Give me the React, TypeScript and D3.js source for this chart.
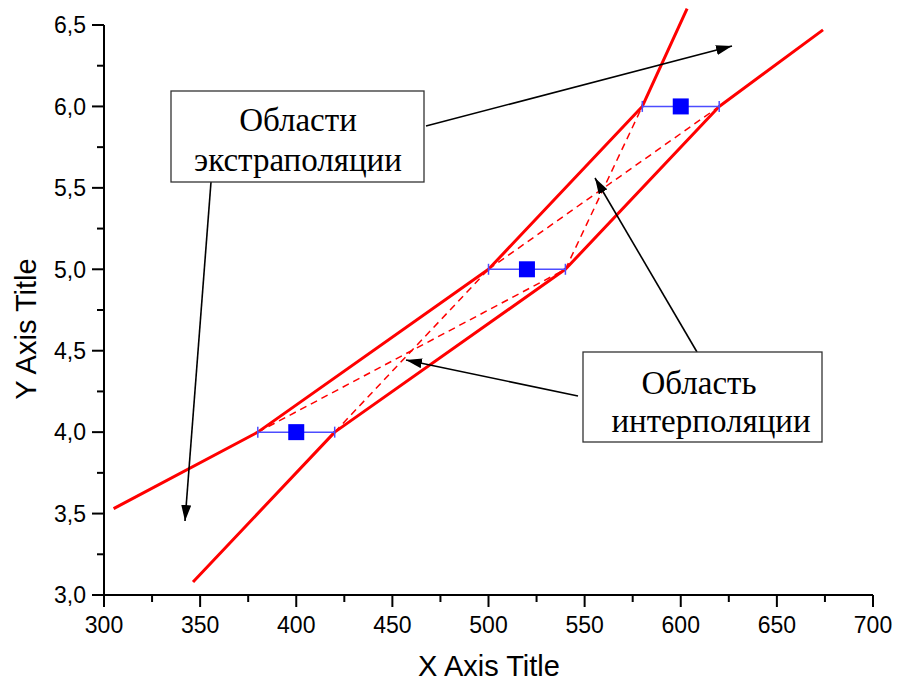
import React from "react";
import * as d3 from "d3";

// Axis ticks
const xTicks = [300, 350, 400, 450, 500, 550, 600, 650, 700];
const xMinorTicks = [325, 375, 425, 475, 525, 575, 625, 675];
const yTicks = [3.0, 3.5, 4.0, 4.5, 5.0, 5.5, 6.0, 6.5];
const yMinorTicks = [3.25, 3.75, 4.25, 4.75, 5.25, 5.75, 6.25];

// Measured points with horizontal error
const pointX = [400, 520, 600];
const pointY = [4.0, 5.0, 6.0];
const pointErrX = [20, 20, 20];

// Boundary polylines (solid red)
const upperX = [305, 380, 500, 580, 603.3];
const upperY = [3.53, 4.0, 5.0, 6.0, 6.6];
const lowerX = [346.3, 420, 540, 620, 674];
const lowerY = [3.08, 4.0, 5.0, 6.0, 6.47];

// Diagonal interpolation lines (dashed red): [x1, y1, x2, y2]
const diagLines = [
  [380, 4.0, 540, 5.0],
  [420, 4.0, 500, 5.0],
  [500, 5.0, 620, 6.0],
  [540, 5.0, 580, 6.0],
];

const W = 897;
const H = 682;

export default function App() {
  const x = d3.scaleLinear().domain([300, 700]).range([104, 873]);
  const y = d3.scaleLinear().domain([3, 6.5]).range([595, 25]);

  const line = d3
    .line<[number, number]>()
    .x((d) => x(d[0]))
    .y((d) => y(d[1]));

  const upper = upperX.map((v, i) => [v, upperY[i]] as [number, number]);
  const lower = lowerX.map((v, i) => [v, lowerY[i]] as [number, number]);

  const tickFont = "'Liberation Sans', Arial, sans-serif";
  const serif = "'Liberation Serif', 'Times New Roman', serif";

  const arrows = [
    { x1: 426, y1: 126, x2: 732, y2: 46 },
    { x1: 211, y1: 182, x2: 185, y2: 521 },
    { x1: 697, y1: 352, x2: 595, y2: 178 },
    { x1: 578, y1: 396, x2: 406, y2: 360 },
  ];

  return (
    <div style={{ position: "absolute", left: 0, top: 0 }}>
      <svg width={W} height={H} viewBox={`0 0 ${W} ${H}`} style={{ display: "block", background: "#fff" }}>
        <defs>
          <marker
            id="arrowHead"
            viewBox="0 0 16 10"
            refX="16"
            refY="5"
            markerWidth="16"
            markerHeight="10"
            markerUnits="userSpaceOnUse"
            orient="auto"
          >
            <path d="M0,0 L16,5 L0,10 z" fill="#000" />
          </marker>
        </defs>

        {/* Dashed diagonals */}
        {diagLines.map((d, i) => (
          <line
            key={`dg${i}`}
            x1={x(d[0])}
            y1={y(d[1])}
            x2={x(d[2])}
            y2={y(d[3])}
            stroke="#ff0000"
            strokeWidth={1.5}
            strokeDasharray="7,5"
          />
        ))}

        {/* Solid boundaries */}
        <path d={line(upper) ?? ""} fill="none" stroke="#ff0000" strokeWidth={3} strokeLinejoin="round" />
        <path d={line(lower) ?? ""} fill="none" stroke="#ff0000" strokeWidth={3} strokeLinejoin="round" />

        {/* Error bars and points */}
        {pointX.map((px, i) => {
          const cy = y(pointY[i]);
          const xl = x(px - pointErrX[i]);
          const xr = x(px + pointErrX[i]);
          return (
            <g key={`p${i}`}>
              <line x1={xl} y1={cy} x2={xr} y2={cy} stroke="#4d4dff" strokeWidth={1.5} />
              <line x1={xl} y1={cy - 5.5} x2={xl} y2={cy + 5.5} stroke="#4d4dff" strokeWidth={1.5} />
              <line x1={xr} y1={cy - 5.5} x2={xr} y2={cy + 5.5} stroke="#4d4dff" strokeWidth={1.5} />
              <rect x={x(px) - 8} y={cy - 8} width={16} height={16} fill="#0000ff" />
            </g>
          );
        })}

        {/* Axes */}
        <g stroke="#000" strokeWidth={2} fill="none">
          <line x1={x(300)} y1={y(3)} x2={x(700)} y2={y(3)} />
          <line x1={x(300)} y1={y(3)} x2={x(300)} y2={y(6.5)} />
          {xTicks.map((t) => (
            <line key={`xt${t}`} x1={x(t)} y1={y(3)} x2={x(t)} y2={y(3) + 12} />
          ))}
          {xMinorTicks.map((t) => (
            <line key={`xm${t}`} x1={x(t)} y1={y(3)} x2={x(t)} y2={y(3) + 7} />
          ))}
          {yTicks.map((t) => (
            <line key={`yt${t}`} x1={x(300) - 12} y1={y(t)} x2={x(300)} y2={y(t)} />
          ))}
          {yMinorTicks.map((t) => (
            <line key={`ym${t}`} x1={x(300) - 7} y1={y(t)} x2={x(300)} y2={y(t)} />
          ))}
        </g>

        <g fontFamily={tickFont} fontSize={23} fill="#000">
          {xTicks.map((t) => (
            <text key={`xl${t}`} x={x(t)} y={633} textAnchor="middle">
              {t}
            </text>
          ))}
          {yTicks.map((t) => (
            <text key={`yl${t}`} x={86} y={y(t)} dy="0.36em" textAnchor="end">
              {t.toFixed(1).replace(".", ",")}
            </text>
          ))}
        </g>

        <text x={489} y={676} textAnchor="middle" fontFamily={tickFont} fontSize={29} fill="#000">
          X Axis Title
        </text>
        <text
          transform={`translate(36, 329) rotate(-90)`}
          textAnchor="middle"
          fontFamily={tickFont}
          fontSize={29}
          fill="#000"
        >
          Y Axis Title
        </text>

        {/* Annotation arrows */}
        {arrows.map((a, i) => (
          <line
            key={`ar${i}`}
            x1={a.x1}
            y1={a.y1}
            x2={a.x2}
            y2={a.y2}
            stroke="#000"
            strokeWidth={1.6}
            markerEnd="url(#arrowHead)"
          />
        ))}

        {/* Annotation boxes */}
        <rect x={171} y={91} width={253} height={91} fill="#fff" stroke="#333" strokeWidth={1.3} />
        <g fontFamily={serif} fontSize={33} fill="#000" textAnchor="middle">
          <text x={298} y={131}>Области</text>
          <text x={298} y={171}>экстраполяции</text>
        </g>

        <rect x={583} y={352} width={239} height={90} fill="#fff" stroke="#333" strokeWidth={1.3} />
        <g fontFamily={serif} fontSize={33} fill="#000" textAnchor="middle">
          <text x={699} y={394}>Область</text>
          <text x={711} y={432}>интерполяции</text>
        </g>
      </svg>
    </div>
  );
}
